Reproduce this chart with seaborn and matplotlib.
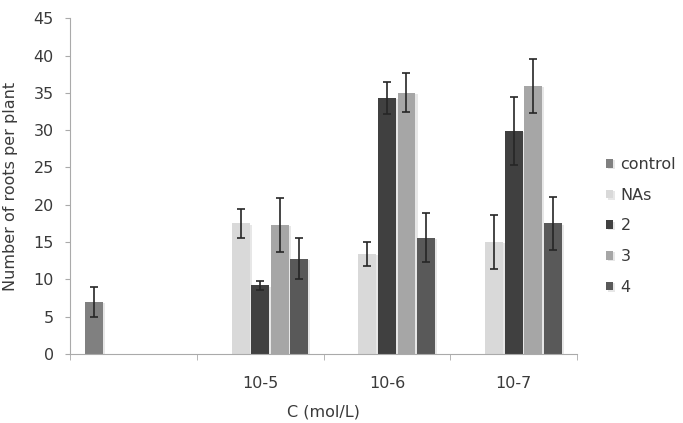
import seaborn as sns
import matplotlib.pyplot as plt
import matplotlib.patheffects as pe
import pandas as pd
from matplotlib.ticker import FixedLocator

# Datos
categories = ['', '10-5', '10-6', '10-7']
series = ['control', 'NAs', '2', '3', '4']
colors = ['#808080', '#d9d9d9', '#404040', '#a6a6a6', '#595959']

control_vals = [7.0, None, None, None]
control_err = [2.0, None, None, None]
nas_vals = [None, 17.5, 13.4, 15.0]
nas_err = [None, 2.0, 1.6, 3.6]
s2_vals = [None, 9.2, 34.3, 29.9]
s2_err = [None, 0.6, 2.1, 4.6]
s3_vals = [None, 17.3, 35.0, 35.9]
s3_err = [None, 3.6, 2.6, 3.6]
s4_vals = [None, 12.8, 15.6, 17.5]
s4_err = [None, 2.8, 3.3, 3.6]

values = [control_vals, nas_vals, s2_vals, s3_vals, s4_vals]
errors = [control_err, nas_err, s2_err, s3_err, s4_err]

rows = []
for s, vals, errs in zip(series, values, errors):
    for c, v, e in zip(categories, vals, errs):
        if v is not None:
            rows.append({'C': c, 'serie': s, 'valor': v, 'err': e})
df = pd.DataFrame(rows)

txt = '#3a3a3a'
fs = 11.5
plt.rcParams['font.family'] = ['DejaVu Sans']
fig, ax = plt.subplots(figsize=(6.83, 4.23), dpi=100)
fig.subplots_adjust(left=0.1025, right=0.845, bottom=0.163, top=0.957)

sns.barplot(data=df, x='C', y='valor', hue='serie', order=categories,
            hue_order=series, palette=colors, width=0.77, gap=0.08,
            errorbar=None, ax=ax, saturation=1)

# sombra suave como en Excel
for bar in ax.patches:
    bar.set_path_effects([pe.SimplePatchShadow(offset=(1.5, -1), shadow_rgbFace='#d0d0d0', alpha=0.5),
                          pe.Normal()])

# Barras de error sobre cada barra
for s, container in zip(series, ax.containers):
    sub = df[df['serie'] == s].set_index('C').reindex(categories).dropna()
    for bar, (_, r) in zip(container, sub.iterrows()):
        cx = bar.get_x() + bar.get_width() / 2
        ax.errorbar(cx, bar.get_height(), yerr=r['err'], fmt='none',
                    ecolor='#262626', elinewidth=1.2, capsize=3.2, capthick=1.2)

ax.set_ylim(0, 45)
ax.set_yticks(range(0, 46, 5))
ax.set_xlim(-0.5, 3.5)
ax.tick_params(axis='x', which='major', length=0, pad=16, labelsize=fs, labelcolor=txt)
ax.xaxis.set_minor_locator(FixedLocator([-0.5, 0.5, 1.5, 2.5, 3.5]))
ax.tick_params(axis='x', which='minor', length=4, color='#aaaaaa')
ax.tick_params(axis='y', length=3.6, color='#aaaaaa', pad=8, labelsize=fs, labelcolor=txt)

for side in ['top', 'right']:
    ax.spines[side].set_visible(False)
for side in ['left', 'bottom']:
    ax.spines[side].set_color('#aaaaaa')

ax.set_ylabel('Number of roots per plant', fontsize=fs, color=txt)
ax.yaxis.set_label_coords(-0.103, 0.5)
ax.set_xlabel('C (mol/L)', fontsize=fs, color=txt)
ax.xaxis.set_label_coords(0.5, -0.196)
ax.xaxis.label.set_va('bottom')

ax.legend(loc='center left', bbox_to_anchor=(1.057, 0.382), frameon=False,
          fontsize=fs, handlelength=0.45, handleheight=0.45, handletextpad=0.45,
          labelspacing=0.98, borderpad=0, borderaxespad=0, labelcolor=txt)

plt.savefig('out.png', dpi=100)
